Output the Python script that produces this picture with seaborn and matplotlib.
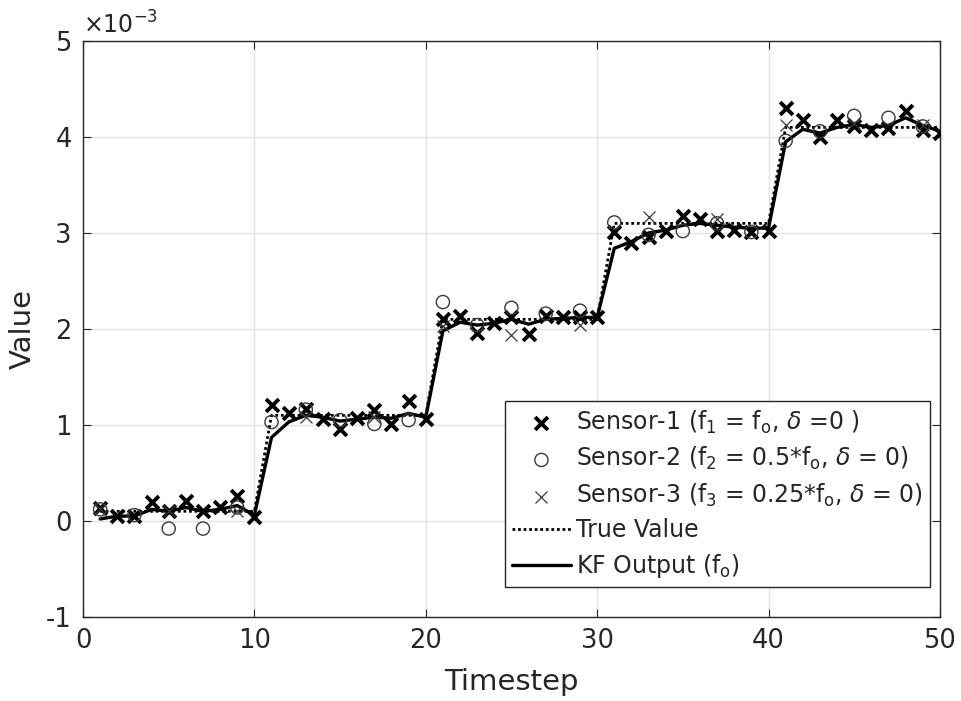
import matplotlib
matplotlib.use("Agg")
import matplotlib.pyplot as plt
import seaborn as sns
import pandas as pd
from matplotlib.ticker import FuncFormatter

# values are given in units of 1e-3
SCALE = 1e-3

timestep = list(range(1, 51))

true_value = [0.1, 0.1, 0.1, 0.1, 0.1, 0.1, 0.1, 0.1, 0.1, 0.1,
              1.1, 1.1, 1.1, 1.1, 1.1, 1.1, 1.1, 1.1, 1.1, 1.1,
              2.1, 2.1, 2.1, 2.1, 2.1, 2.1, 2.1, 2.1, 2.1, 2.1,
              3.1, 3.1, 3.1, 3.1, 3.1, 3.1, 3.1, 3.1, 3.1, 3.1,
              4.1, 4.1, 4.1, 4.1, 4.1, 4.1, 4.1, 4.1, 4.1, 4.1]

sensor1 = [0.13, 0.05, 0.05, 0.20, 0.10, 0.21, 0.10, 0.15, 0.26, 0.04,
           1.21, 1.12, 1.17, 1.06, 0.96, 1.07, 1.16, 1.01, 1.25, 1.06,
           2.10, 2.13, 1.96, 2.06, 2.12, 1.95, 2.13, 2.12, 2.12, 2.12,
           3.01, 2.90, 2.96, 3.02, 3.18, 3.15, 3.02, 3.03, 3.01, 3.02,
           4.30, 4.18, 4.00, 4.18, 4.11, 4.07, 4.09, 4.27, 4.07, 4.04]

sensor2_t = [1, 3, 5, 7, 9, 11, 13, 15, 17, 19, 21, 23, 25,
             27, 29, 31, 33, 35, 37, 39, 41, 43, 45, 47, 49]
sensor2 = [0.12, 0.06, -0.08, -0.08, 0.14, 1.03, 1.16, 1.05, 1.01, 1.05,
           2.28, 2.04, 2.22, 2.16, 2.19, 3.11, 2.98, 3.02, 3.10, 3.01,
           3.96, 4.06, 4.22, 4.20, 4.11]

sensor3_t = [1, 5, 9, 13, 17, 21, 25, 29, 33, 37, 41, 45, 49]
sensor3 = [0.12, 0.10, 0.10, 1.08, 1.08, 2.03, 1.94, 2.04,
           3.17, 3.15, 4.13, 4.15, 4.12]

kf_output = [0.02, 0.05, 0.05, 0.12, 0.10, 0.14, 0.10, 0.12, 0.16, 0.06,
             0.87, 1.03, 1.10, 1.08, 1.04, 1.06, 1.08, 1.07, 1.12, 1.08,
             1.98, 2.07, 2.04, 2.06, 2.10, 2.05, 2.10, 2.11, 2.12, 2.12,
             2.84, 2.91, 3.00, 3.03, 3.08, 3.10, 3.08, 3.06, 3.05, 3.05,
             3.95, 4.08, 4.04, 4.10, 4.13, 4.10, 4.12, 4.20, 4.12, 4.06]

x_ticks = [0, 10, 20, 30, 40, 50]
y_ticks = [-1, 0, 1, 2, 3, 4, 5]

main = pd.DataFrame({
    "t": timestep,
    "true": [v * SCALE for v in true_value],
    "kf": [v * SCALE for v in kf_output],
    "s1": [v * SCALE for v in sensor1],
})
s2 = pd.DataFrame({"t": sensor2_t, "v": [v * SCALE for v in sensor2]})
s3 = pd.DataFrame({"t": sensor3_t, "v": [v * SCALE for v in sensor3]})

sns.set_theme(style="ticks")
plt.rcParams["font.family"] = ["DejaVu Sans"]
plt.rcParams["mathtext.fontset"] = "dejavusans"
plt.rcParams["axes.unicode_minus"] = False

ink = "#262626"
fig = plt.figure(figsize=(9.62, 7.01), dpi=100)
ax = fig.add_axes([0.0863, 0.12, 0.8907, 0.8215])

sns.lineplot(data=main, x="t", y="true", ax=ax, color="black",
             linestyle=(0, (1, 1)), linewidth=2.0, label="True Value",
             legend=False, zorder=3)
sns.lineplot(data=main, x="t", y="kf", ax=ax, color="black",
             linewidth=2.4, label=r"KF Output (f$_\mathrm{o}$)",
             legend=False, zorder=3)
sns.scatterplot(data=main, x="t", y="s1", ax=ax, marker="x", s=85,
                color="black", linewidth=2.8, zorder=4, legend=False,
                label=r"Sensor-1 (f$_1$ = f$_\mathrm{o}$, $\delta$ =0 )")
sns.scatterplot(data=s2, x="t", y="v", ax=ax, marker="o", s=90,
                facecolor="none", edgecolor="#3a3a3a", linewidth=1.0,
                zorder=4, legend=False,
                label=r"Sensor-2 (f$_2$ = 0.5*f$_\mathrm{o}$, $\delta$ = 0)")
sns.scatterplot(data=s3, x="t", y="v", ax=ax, marker="x", s=75,
                color="#3a3a3a", linewidth=0.9, zorder=4, legend=False,
                label=r"Sensor-3 (f$_3$ = 0.25*f$_\mathrm{o}$, $\delta$ = 0)")

ax.set_xlim(0, 50)
ax.set_ylim(-1 * SCALE, 5 * SCALE)
ax.set_xticks(x_ticks)
ax.set_yticks([v * SCALE for v in y_ticks])

# tick labels in units of 1e-3 with a multiplier shown above the axis
ax.yaxis.set_major_formatter(FuncFormatter(lambda v, pos: f"{round(v / SCALE):d}"))
ax.text(0.0, 1.004, r"$\times$10$^{-3}$", transform=ax.transAxes,
        ha="left", va="bottom", fontsize=17, color=ink)

ax.grid(True, color="#e3e3e3", linewidth=1.0)
ax.set_axisbelow(True)
for sp in ax.spines.values():
    sp.set_color(ink)
    sp.set_linewidth(1.0)
ax.tick_params(direction="in", length=6, width=0.8, colors=ink,
               labelsize=18.5, top=True, right=True, pad=8)
for lbl in ax.get_xticklabels() + ax.get_yticklabels():
    lbl.set_color(ink)

ax.set_xlabel("Timestep", fontsize=21, color=ink, labelpad=10)
ax.set_ylabel("Value", fontsize=21, color=ink)
ax.yaxis.set_label_coords(-0.054, 0.5)

handles, labels = ax.get_legend_handles_labels()
order = [2, 3, 4, 0, 1]
leg = ax.legend([handles[i] for i in order], [labels[i] for i in order],
                loc="lower right", bbox_to_anchor=(0.988, 0.052),
                borderaxespad=0, fontsize=17, frameon=True, fancybox=False,
                framealpha=1, edgecolor=ink, handlelength=2.5,
                handletextpad=0.2, labelspacing=0.4, borderpad=0.3)
leg.get_frame().set_linewidth(1.0)

fig.savefig("out.png", dpi=100)
